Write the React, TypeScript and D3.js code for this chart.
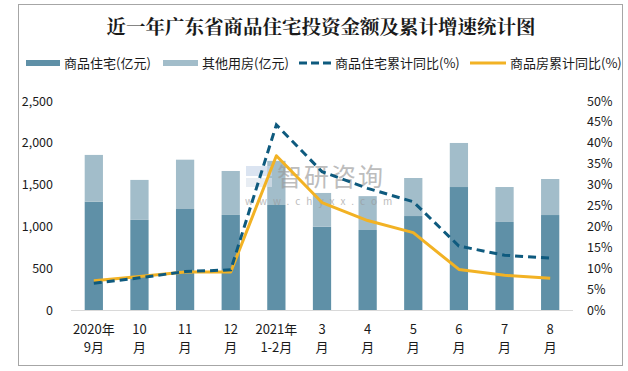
import React, { useEffect, useRef } from 'react';
import * as d3 from 'd3';

const categories = ['2020年|9月', '10|月', '11|月', '12|月', '2021年|1-2月', '3|月', '4|月', '5|月', '6|月', '7|月', '8|月'];
const residential = [1295, 1078, 1208, 1137, 1256, 996, 957, 1124, 1471, 1053, 1136];
const other = [560, 478, 590, 526, 528, 404, 405, 455, 527, 418, 431];
const residentialYoY = [6.4, 7.7, 9.2, 9.6, 44.3, 33.1, 29.1, 25.9, 15.3, 13.1, 12.4];
const housingYoY = [7.0, 8.0, 9.1, 9.1, 36.9, 25.7, 21.4, 18.5, 9.7, 8.3, 7.6];
const leftTicks = [0, 500, 1000, 1500, 2000, 2500];
const rightTicks = [0, 5, 10, 15, 20, 25, 30, 35, 40, 45, 50];

const W = 628;
const H = 371;
const FONT = "'Noto Sans CJK SC', 'Noto Sans', sans-serif";

const App: React.FC = () => {
  const svgRef = useRef<SVGSVGElement>(null);

  useEffect(() => {
    document.body.style.margin = '0';
    if (!svgRef.current) return;
    const svg = d3.select(svgRef.current);
    svg.selectAll('*').remove();

    svg.append('rect').attr('width', W).attr('height', H).attr('fill', '#fff');
    svg.append('rect')
      .attr('x', 18.5).attr('y', 4.5).attr('width', 604).attr('height', 361)
      .attr('fill', '#fff').attr('stroke', '#a6a6a6').attr('stroke-width', 1);

    const x = d3.scaleBand<number>()
      .domain(d3.range(categories.length))
      .range([71, 573])
      .paddingInner(0.6)
      .paddingOuter(0.3);
    const y = d3.scaleLinear().domain([0, 2500]).range([310, 101]);
    const y2 = d3.scaleLinear().domain([0, 50]).range([310, 101]);

    // title
    svg.append('text')
      .attr('x', 321).attr('y', 34)
      .attr('text-anchor', 'middle')
      .attr('font-family', "'Noto Serif CJK SC', 'Noto Sans CJK SC', serif")
      .attr('font-weight', 'bold')
      .attr('font-size', 19.5)
      .attr('fill', '#1a1a1a')
      .text('近一年广东省商品住宅投资金额及累计增速统计图');

    // legend
    const legend = [
      { label: '商品住宅(亿元)', x: 26, w: 34, type: 'bar', color: '#5f90a7' },
      { label: '其他用房(亿元)', x: 163, w: 35, type: 'bar', color: '#a2bdca' },
      { label: '商品住宅累计同比(%)', x: 299, w: 32, type: 'dash', color: '#0e5a7e' },
      { label: '商品房累计同比(%)', x: 470, w: 36, type: 'line', color: '#f2b224' },
    ];
    legend.forEach(l => {
      if (l.type === 'bar') {
        svg.append('rect').attr('x', l.x).attr('y', 60).attr('width', l.w).attr('height', 6).attr('fill', l.color);
      } else {
        svg.append('line')
          .attr('x1', l.x).attr('x2', l.x + l.w).attr('y1', 63).attr('y2', 63)
          .attr('stroke', l.color).attr('stroke-width', 3)
          .attr('stroke-dasharray', l.type === 'dash' ? '8,4' : null);
      }
      svg.append('text')
        .attr('x', l.x + l.w + 4).attr('y', 68)
        .attr('font-family', FONT).attr('font-size', 13).attr('fill', '#1a1a1a')
        .text(l.label);
    });

    // axes labels
    svg.append('g').selectAll('text').data(leftTicks).enter().append('text')
      .attr('x', 53).attr('y', d => y(d) + 4.5)
      .attr('text-anchor', 'end')
      .attr('font-family', FONT).attr('font-size', 12.5).attr('fill', '#1a1a1a')
      .text(d => d3.format(',')(d));
    svg.append('g').selectAll('text').data(rightTicks).enter().append('text')
      .attr('x', 587).attr('y', d => y2(d) + 4.5)
      .attr('font-family', FONT).attr('font-size', 12.5).attr('fill', '#1a1a1a')
      .text(d => d + '%');

    // bars
    const bars = svg.append('g');
    bars.selectAll('rect.res').data(residential).enter().append('rect')
      .attr('x', (_, i) => x(i)!).attr('width', x.bandwidth())
      .attr('y', d => y(d)).attr('height', d => 310 - y(d))
      .attr('fill', '#5f90a7');
    bars.selectAll('rect.oth').data(other).enter().append('rect')
      .attr('x', (_, i) => x(i)!).attr('width', x.bandwidth())
      .attr('y', (d, i) => y(d + residential[i])).attr('height', d => 310 - y(d))
      .attr('fill', '#a2bdca');

    svg.append('line').attr('x1', 71).attr('x2', 573).attr('y1', 310.5).attr('y2', 310.5)
      .attr('stroke', '#d9d9d9').attr('stroke-width', 1);

    // x labels
    categories.forEach((c, i) => {
      const parts = c.split('|');
      const cx = x(i)! + x.bandwidth() / 2;
      parts.forEach((p, j) => {
        svg.append('text')
          .attr('x', cx).attr('y', 334 + j * 18)
          .attr('text-anchor', 'middle')
          .attr('font-family', FONT).attr('font-size', 13).attr('fill', '#1a1a1a')
          .text(p);
      });
    });

    // watermark
    const wm = svg.append('g').attr('opacity', 0.65);
    wm.append('rect').attr('x', 246).attr('y', 166).attr('width', 26).attr('height', 10).attr('fill', '#c9d6ea');
    wm.append('rect').attr('x', 246).attr('y', 178).attr('width', 26).attr('height', 9).attr('fill', '#dde4ee');
    wm.append('text')
      .attr('x', 277).attr('y', 186)
      .attr('font-family', FONT).attr('font-size', 25).attr('fill', '#9a9a9a')
      .attr('letter-spacing', 2)
      .text('智研咨询');
    wm.append('text')
      .attr('x', 245).attr('y', 205)
      .attr('font-family', FONT).attr('font-size', 10).attr('fill', '#9a9a9a')
      .attr('letter-spacing', 6)
      .text('www.chyxx.com');

    // lines
    const line = d3.line<number>()
      .x((_, i) => x(i)! + x.bandwidth() / 2)
      .y(d => y2(d));
    svg.append('path').datum(housingYoY)
      .attr('d', line).attr('fill', 'none')
      .attr('stroke', '#f2b224').attr('stroke-width', 3).attr('stroke-linejoin', 'round');
    svg.append('path').datum(residentialYoY)
      .attr('d', line).attr('fill', 'none')
      .attr('stroke', '#0e5a7e').attr('stroke-width', 3)
      .attr('stroke-dasharray', '8,5');
  }, []);

  return <svg ref={svgRef} width={W} height={H} style={{ display: 'block' }} />;
};

export default App;
